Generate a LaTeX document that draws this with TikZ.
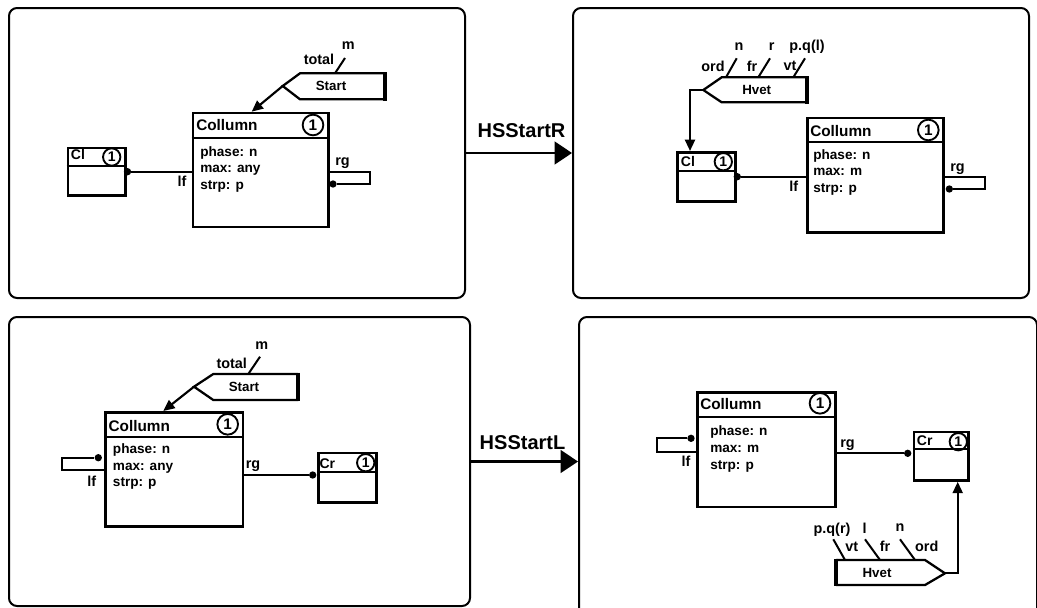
\documentclass[tikz,border=0pt]{standalone}
\usepackage{fontspec}
\setmainfont{Liberation Sans}
\usetikzlibrary{arrows.meta}
\tikzset{
 panel/.style={draw, line width=1.5pt, rounded corners=6pt, inner sep=0pt},
 ebox/.style={draw, line width=1.9pt, inner sep=0pt},
 eline/.style={line width=1.6pt},
 conn/.style={line width=1.6pt},
 stub/.style={line width=1.5pt},
 dotn/.style={circle, fill, inner sep=0pt, minimum size=5.5pt},
 cnum/.style={circle, draw, line width=1.4pt, inner sep=0pt, minimum size=15.5pt, font=\fontsize{11.5}{11.5}\selectfont\bfseries},
 cnums/.style={cnum, minimum size=13pt, font=\fontsize{10.5}{10.5}\selectfont\bfseries},
 ttl/.style={anchor=west, inner sep=0pt, font=\fontsize{11.5}{12}\selectfont\bfseries},
 ttls/.style={anchor=west, inner sep=0pt, font=\fontsize{10.5}{11}\selectfont\bfseries},
 attr/.style={anchor=base west, inner sep=0pt, font=\fontsize{10.2}{12}\selectfont\bfseries},
 lbl/.style={inner sep=0pt, font=\fontsize{10.8}{11}\selectfont\bfseries},
 sig/.style={line width=1.7pt, line join=miter},
 sigedge/.style={line width=2.8pt},
 sigtxt/.style={inner sep=0pt, font=\fontsize{10}{11}\selectfont\bfseries},
 smallarr/.style={conn, -{Triangle[length=8.5pt,width=7.5pt]}},
 bigarr/.style={conn, -{Triangle[length=13pt,width=17pt]}},
 bigl/.style={inner sep=0pt, font=\fontsize{15}{16}\selectfont\bfseries},
}
\newcommand{\entbox}[6]{%
 \node[ebox, minimum width={(#4-#2)*0.75pt}, minimum height={(#5-#3)*0.75pt}, anchor=north west] (#1) at (#2,#3) {};
 \draw[eline] (#2,#6) -- (#4,#6);}
\newcommand{\attrlines}[5]{%
 \node[attr] at (#1,#2) {#3};
 \node[attr] at (#1,#2+16.7) {#4};
 \node[attr] at (#1,#2+33.4) {#5};}
\begin{document}
\begin{tikzpicture}[x=0.75pt,y=-0.75pt]
\useasboundingbox (0,0) rectangle (1037,607);
% panels
\node[panel, minimum width={456*0.75pt}, minimum height={290*0.75pt}, anchor=north west] (P1) at (8,7) {};
\node[panel, minimum width={456*0.75pt}, minimum height={290*0.75pt}, anchor=north west] (P2) at (572,7) {};
\node[panel, minimum width={461*0.75pt}, minimum height={289*0.75pt}, anchor=north west] (P3) at (8,316) {};
\node[panel, minimum width={458*0.75pt}, minimum height={320*0.75pt}, anchor=north west] (P4) at (578,316) {};
\draw[bigarr] (P1.east) -- (P2.west);
\node[bigl] (hr) at (521.5,131) {HSStartR};
\draw[bigarr] (P3.east) -- (P3.east -| P4.west);
\node[bigl] (hl) at (522.5,442.5) {HSStartL};

% ---------- top left
\entbox{C1}{191.7}{111.7}{327}{225.7}{138}
\node[ttl] at (196,125.5) {Collumn};
\node[cnum] at (313,125) {1};
\attrlines{200}{156}{phase: n}{max: any}{strp: p}
\entbox{L1}{66.7}{146.7}{124}{194}{165.7}
\node[ttls] at (70.7,154.5) {Cl};
\node[cnums] at (111.7,157) {1};
\node[dotn] (d1) at (127.5,171.7) {};
\draw[conn] (d1) -- (d1 -| C1.west);
\node[lbl] at (182,181.7) {lf};
\node[dotn] (d2) at (333,184) {};
\draw[conn] (d2) -- (370,184) -- (370,172) -- (C1.east |- 0,172);
\node[lbl] at (342.5,163.3) {rg};
\draw[sig] (385,73.3) -- (300,73.3) -- (282.7,86) -- (300,99.3) -- (385,99.3);
\draw[sigedge] (385,72) -- (385,100.6);
\coordinate (S1) at (282.7,86);
\node[sigtxt] at (331,86) {Start};
\draw[smallarr] (S1) -- (251.7,0 |- C1.north);
\draw[stub] (335,73.3) -- (345,58);
\node[lbl] at (319,59.3) {total};
\node[lbl] at (348.3,46) {m};

% ---------- top right
\draw[sig] (806.7,77.3) -- (721.7,77.3) -- (703.3,90) -- (721.7,102.3) -- (806.7,102.3);
\draw[sigedge] (806.7,76) -- (806.7,103.6);
\node[sigtxt] at (756.7,90) {Hvet};
\draw[stub] (726,77.3) -- (736.7,58.3);
\draw[stub] (758.3,77.3) -- (770,58.3);
\draw[stub] (793.3,77.3) -- (805,58.3);
\node[lbl] at (713,66) {ord};
\node[lbl] at (739,46.7) {n};
\node[lbl] at (752,66) {fr};
\node[lbl] at (771.7,46.7) {r};
\node[lbl] at (790,66) {vt};
\node[lbl] at (807,46.7) {p.q(l)};
\coordinate (H2) at (703.3,90);
\entbox{L2}{676}{151}{734.3}{200}{171}
\draw[smallarr] (H2) -- (690,90) -- (690,0 |- L2.north);
\node[ttls] at (680.7,161.5) {Cl};
\node[cnums] at (723.3,161.7) {1};
\entbox{C2}{806}{116.7}{942.3}{231}{141.7}
\node[ttl] at (810,130.7) {Collumn};
\node[cnum] at (928.3,130) {1};
\attrlines{813}{159}{phase: n}{max: m}{strp: p}
\node[dotn] (d3) at (737.3,176.7) {};
\draw[conn] (d3) -- (d3 -| C2.west);
\node[lbl] at (793.7,186.7) {lf};
\node[dotn] (d4) at (949.3,189) {};
\draw[conn] (d4) -- (985,189) -- (985,176.7) -- (C2.east |- 0,176.7);
\node[lbl] at (957.5,169) {rg};

% ---------- bottom left
\entbox{C3}{104.3}{411}{241.7}{525}{437.3}
\node[ttl] at (108.3,425.8) {Collumn};
\node[cnum] at (227.7,424.3) {1};
\attrlines{112.7}{453.3}{phase: n}{max: any}{strp: p}
\draw[sig] (298.3,374) -- (213.3,374) -- (194,386.7) -- (213.3,400) -- (298.3,400);
\draw[sigedge] (298.3,372.7) -- (298.3,401.3);
\node[sigtxt] at (244,387) {Start};
\coordinate (S3) at (194,386.7);
\draw[smallarr] (S3) -- (163.3,0 |- C3.north);
\draw[stub] (248.3,374) -- (260,356.7);
\node[lbl] at (231.7,363.3) {total};
\node[lbl] at (261.7,346) {m};
\node[dotn] (d5) at (98.3,457.7) {};
\draw[conn] (d5) -- (61.7,457.7) -- (61.7,470) -- (C3.west |- 0,470);
\node[lbl] at (91.7,481.7) {lf};
\entbox{R3}{317.3}{451.7}{375}{501}{471.7}
\node[ttls] at (319.3,463.5) {Cr};
\node[cnums] at (365.7,462.7) {1};
\node[dotn] (d6) at (312.7,475) {};
\draw[conn] (C3.east |- d6) -- (d6);
\node[lbl] at (253,466) {rg};

% ---------- bottom right
\entbox{C4}{696}{391}{834}{505.7}{416.7}
\node[ttl] at (700,404) {Collumn};
\node[cnum] at (820,403.3) {1};
\attrlines{710}{435.7}{phase: n}{max: m}{strp: p}
\node[dotn] (d7) at (691,438.3) {};
\draw[conn] (d7) -- (657,438.3) -- (657,451.7) -- (C4.west |- 0,451.7);
\node[lbl] at (686,461) {lf};
\entbox{R4}{912.7}{430.7}{967.3}{479.3}{449.3}
\node[ttls] at (916.7,441) {Cr};
\node[cnums] at (958.3,441.7) {1};
\node[dotn] (d8) at (907.7,453.3) {};
\draw[conn] (C4.east |- d8) -- (d8);
\node[lbl] at (847.5,445) {rg};
\draw[sig] (836,560) -- (925,560) -- (945,573.3) -- (925,585) -- (836,585);
\draw[sigedge] (836,558.7) -- (836,586.3);
\node[sigtxt] at (877,573) {Hvet};
\coordinate (H4) at (945,573.3);
\draw[smallarr] (H4) -- (957.7,573.3) -- (957.7,0 |- R4.south);
\draw[stub] (845,560) -- (833.3,539.3);
\draw[stub] (880,560) -- (865,539.3);
\draw[stub] (915,560) -- (900,539.3);
\node[lbl] at (832,530) {p.q(r)};
\node[lbl] at (851.7,546.7) {vt};
\node[lbl] at (864.5,528) {l};
\node[lbl] at (885,546.7) {fr};
\node[lbl] at (900,528) {n};
\node[lbl] at (926.7,546.7) {ord};
\end{tikzpicture}
\end{document}
